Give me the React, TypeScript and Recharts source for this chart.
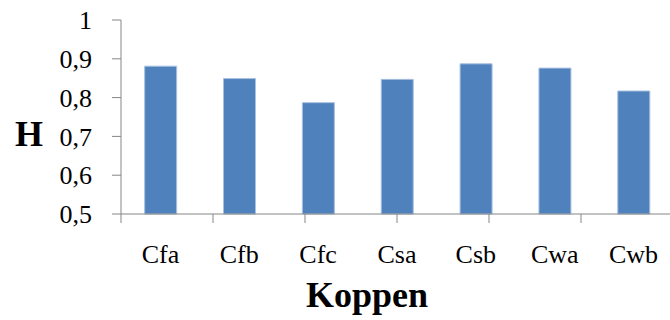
import React from 'react';
import { BarChart, Bar, XAxis, YAxis, Label } from 'recharts';

const climates = ['Cfa', 'Cfb', 'Cfc', 'Csa', 'Csb', 'Cwa', 'Cwb'];
const hValues = [0.881, 0.849, 0.787, 0.847, 0.887, 0.876, 0.817];
const yTicks = [0.5, 0.6, 0.7, 0.8, 0.9, 1];
const edgeTicks = [0, 1, 2, 3, 4, 5, 6, 7];

const data = climates.map((name, i) => ({ name, h: hValues[i] }));

const FONT = '"Liberation Serif", "Times New Roman", serif';
const AXIS = '#868686';

const fmt = (v: number) => String(v).replace('.', ',');

export default function App() {
  return (
    <div
      style={{
        position: 'absolute',
        left: 0,
        top: 0,
        width: 670,
        height: 320,
        overflow: 'hidden',
        background: '#fff',
        fontFamily: FONT,
      }}
    >
      <BarChart
        width={673}
        height={320}
        data={data}
        margin={{ top: 20, right: 0, bottom: 0, left: 0 }}
        barCategoryGap="30%"
        style={{ fontFamily: FONT }}
      >
        {/* boundary ticks between categories, sits right on the plot bottom */}
        <XAxis
          xAxisId="a"
          type="number"
          domain={[0, 7]}
          ticks={edgeTicks}
          tickFormatter={() => ''}
          height={1}
          tickSize={9}
          stroke={AXIS}
          axisLine={{ stroke: AXIS }}
          tickLine={{ stroke: AXIS }}
        />
        <XAxis
          xAxisId="b"
          dataKey="name"
          height={105}
          axisLine={false}
          tickLine={false}
          tickSize={9}
          tickMargin={21}
          tick={{ fill: '#000', fontSize: 26, style: { fontFamily: FONT } }}
        >
          <Label
            value="Koppen"
            position="insideBottom"
            offset={13}
            dx={-30}
            style={{ fontSize: 36, fontWeight: 'bold', fontFamily: FONT, fill: '#000' }}
          />
        </XAxis>
        <YAxis
          width={121}
          domain={[0.5, 1]}
          ticks={yTicks}
          tickFormatter={fmt}
          tickSize={9}
          tickMargin={20}
          stroke={AXIS}
          tick={{ fill: '#000', fontSize: 26, style: { fontFamily: FONT } }}
        >
          <Label
            value="H"
            position="insideLeft"
            offset={15}
            dy={16}
            style={{ fontSize: 36, fontWeight: 'bold', fontFamily: FONT, fill: '#000' }}
          />
        </YAxis>
        <Bar
          xAxisId="b"
          dataKey="h"
          fill="#4F81BD"
          stroke="#A9C0E0"
          strokeWidth={1}
          isAnimationActive={false}
        />
      </BarChart>
    </div>
  );
}
